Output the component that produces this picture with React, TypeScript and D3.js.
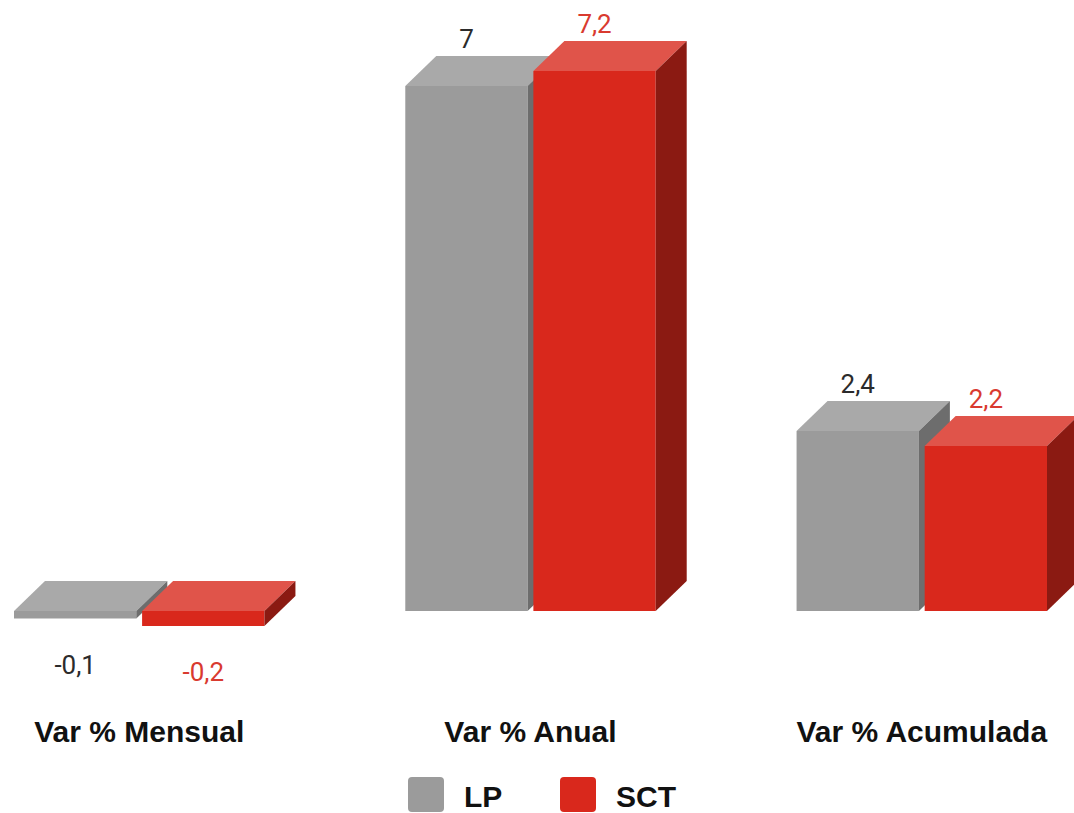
import * as d3 from 'd3';
import React, { useEffect, useRef } from 'react';

const categories = ['Var % Mensual', 'Var % Anual', 'Var % Acumulada'];
const seriesNames = ['LP', 'SCT'];
const lpValues = [-0.1, 7, 2.4];
const sctValues = [-0.2, 7.2, 2.2];
const valueLabels = [
  ['-0,1', '7', '2,4'],
  ['-0,2', '7,2', '2,2'],
];

const palette = [
  { front: '#9b9b9b', top: '#a9a9a9', side: '#6d6d6d', text: '#2b2b2b', key: '#9b9b9b' },
  { front: '#d9281c', top: '#e0544a', side: '#8b1a12', text: '#d93a2f', key: '#d9281c' },
];

const App: React.FC = () => {
  const svgRef = useRef<SVGSVGElement | null>(null);

  useEffect(() => {
    const svg = d3.select(svgRef.current);
    const width = 1074;
    const height = 813;
    const depthX = 31;
    const depthY = 30;

    svg.attr('width', width).attr('height', height).attr('viewBox', `0 0 ${width} ${height}`);
    svg.selectAll('*').remove();

    const x0 = d3.scaleBand<string>().domain(categories).range([14, 1047]).paddingInner(0.36).paddingOuter(0);
    const x1 = d3.scaleBand<string>().domain(seriesNames).range([0, x0.bandwidth()]).paddingInner(0.045);
    const y = d3.scaleLinear().domain([0, 7.2]).range([611, 71]);

    const series = [lpValues, sctValues];

    categories.forEach((cat, ci) => {
      const g = svg.append('g');
      seriesNames.forEach((name, si) => {
        const v = series[si][ci];
        const c = palette[si];
        const left = x0(cat)! + x1(name)!;
        const right = left + x1.bandwidth();
        const top = Math.min(y(v), y(0));
        const bottom = Math.max(y(v), y(0));

        // front face
        g.append('rect')
          .attr('x', left)
          .attr('y', top)
          .attr('width', right - left)
          .attr('height', bottom - top)
          .attr('fill', c.front);

        // top face
        g.append('path')
          .attr('d', `M${left},${top}L${left + depthX},${top - depthY}L${right + depthX},${top - depthY}L${right},${top}Z`)
          .attr('fill', c.top);

        // side face
        g.append('path')
          .attr('d', `M${right},${top}L${right + depthX},${top - depthY}L${right + depthX},${bottom - depthY}L${right},${bottom}Z`)
          .attr('fill', c.side);
      });

      seriesNames.forEach((name, si) => {
        const v = series[si][ci];
        const cx = x0(cat)! + x1(name)! + x1.bandwidth() / 2;
        const ly = v >= 0 ? y(v) - depthY - 8 : y(v) + 55;
        g.append('text')
          .attr('x', cx)
          .attr('y', ly)
          .attr('text-anchor', 'middle')
          .attr('font-family', 'Roboto, sans-serif')
          .attr('font-size', 26)
          .attr('fill', palette[si].text)
          .text(valueLabels[si][ci]);
      });

      g.append('text')
        .attr('x', x0(cat)! + x0.bandwidth() / 2)
        .attr('y', 742)
        .attr('text-anchor', 'middle')
        .attr('font-family', '"Liberation Sans", Arial, sans-serif')
        .attr('font-weight', 'bold')
        .attr('font-size', 30)
        .attr('fill', '#111')
        .text(cat);
    });

    // legend
    const legendX = [408, 560];
    const legend = svg.append('g');
    seriesNames.forEach((name, si) => {
      legend
        .append('rect')
        .attr('x', legendX[si])
        .attr('y', 777)
        .attr('width', 36)
        .attr('height', 35)
        .attr('rx', 4)
        .attr('fill', palette[si].key);
      legend
        .append('text')
        .attr('x', legendX[si] + 56)
        .attr('y', 807)
        .attr('font-family', '"Liberation Sans", Arial, sans-serif')
        .attr('font-weight', 'bold')
        .attr('font-size', 30)
        .attr('fill', '#111')
        .text(name);
    });
  }, []);

  return (
    <div style={{ position: 'absolute', left: 0, top: 0 }}>
      <svg ref={svgRef} style={{ display: 'block' }}></svg>
    </div>
  );
};

export default App;
